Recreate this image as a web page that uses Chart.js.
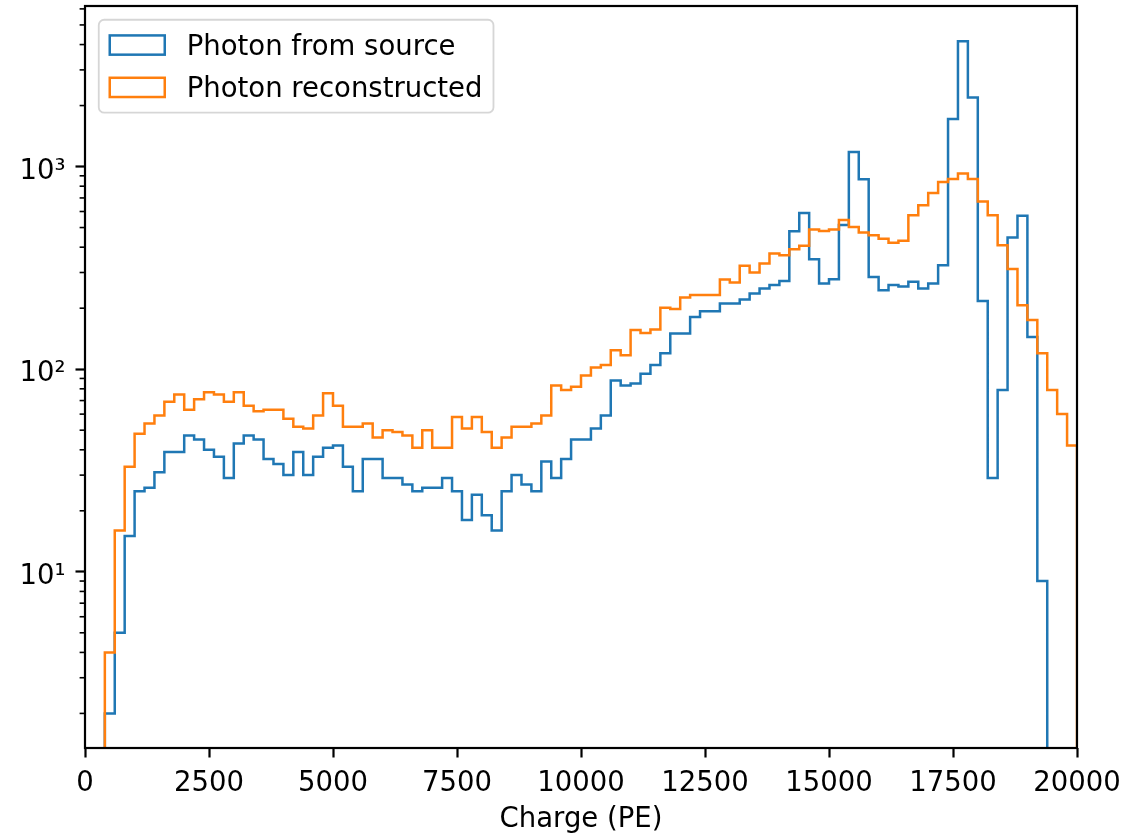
<!DOCTYPE html>
<html>
<head>
  <title>Charge spectrum</title>
  <script src="https://cdn.jsdelivr.net/npm/chart.js"></script>
  <style>
    body { margin: 0; background: #fff; }
  </style>
</head>
<body>
  <canvas id="chart" width="1127" height="838"></canvas>
  <script>
    // binning used for both histograms: 100 bins of 200 PE
    const chargeMin = 0;
    const chargeMax = 20000;

    const seriesLabels = ['Photon from source', 'Photon reconstructed'];

    // counts per bin
    const countsSource = [
      0, 0, 2, 5, 15, 25, 26, 31, 39, 39,
      47, 45, 40, 37, 29, 43, 47, 45, 36, 34,
      30, 39, 30, 37, 41, 42, 33, 25, 36, 36,
      29, 29, 27, 25, 26, 26, 29, 25, 18, 24,
      19, 16, 25, 30, 27, 25, 35, 29, 36, 45,
      45, 51, 59, 88, 83, 85, 95, 105, 120, 150,
      150, 181, 193, 193, 211, 211, 221, 236, 250, 260,
      272, 479, 590, 349, 265, 278, 515, 1181, 865, 285,
      245, 260, 256, 270, 250, 265, 326, 1715, 4150, 2190,
      217, 29, 79, 446, 572, 144, 9, 0, 0, 0
    ];
    const countsReco = [
      0, 0, 4, 16, 33, 48, 54, 59, 69, 75,
      63, 71, 77, 75, 69, 77, 66, 62, 63, 63,
      57, 52, 51, 59, 76, 66, 52, 52, 54, 46,
      50, 49, 47, 41, 50, 41, 41, 58, 51, 58,
      49, 41, 46, 52, 52, 54, 59, 83, 79, 82,
      93, 102, 105, 124, 117, 156, 151, 157, 201, 198,
      226, 232, 232, 232, 277, 268, 324, 300, 332, 372,
      365, 391, 406, 489, 481, 489, 545, 503, 472, 458,
      440, 421, 430, 575, 645, 741, 840, 867, 924, 867,
      672, 575, 409, 312, 207, 175, 120, 79, 60, 42
    ];

    const xTicks = [0, 2500, 5000, 7500, 10000, 12500, 15000, 17500, 20000];
    const yMin = 1.35;
    const yMax = 6200;
    const yMajor = [10, 100, 1000];
    const yMajorLabels = ['10\u00b9', '10\u00b2', '10\u00b3'];

    const FONT = 27.5;
    const EMPTY = 1; // empty bins sit below the axis floor, like -inf on a log axis

    // outline of a step histogram: each bin holds its count until the next edge
    function stepPoints(counts) {
      const w = (chargeMax - chargeMin) / counts.length;
      const pts = counts.map((c, i) => ({ x: chargeMin + i * w, y: c > 0 ? c : EMPTY }));
      pts.push({ x: chargeMax, y: EMPTY });
      return pts;
    }

    // log minor ticks 2..9 x 10^k inside the axis range
    function logTicks() {
      const out = [];
      for (let dec = 1; dec <= 1000; dec *= 10) {
        for (let m = 1; m <= 9; m++) {
          const v = m * dec;
          if (v >= yMin && v <= yMax) out.push({ value: v });
        }
      }
      return out;
    }

    Chart.defaults.font.family = '"DejaVu Sans"';
    Chart.defaults.font.size = FONT;
    Chart.defaults.color = '#000';

    // four spines plus the short minor ticks on the log axis
    const axesFrame = {
      id: 'axesFrame',
      afterDatasetsDraw(chart) {
        const { ctx, chartArea: a } = chart;
        const y = chart.scales.y;
        ctx.save();
        ctx.strokeStyle = '#000';
        ctx.lineWidth = 1.6;
        y.ticks.forEach(t => {
          if (yMajor.includes(t.value)) return;
          const py = y.getPixelForValue(t.value);
          ctx.beginPath();
          ctx.moveTo(a.left - 5.4, py);
          ctx.lineTo(a.left, py);
          ctx.stroke();
        });
        ctx.lineWidth = 2.2;
        ctx.strokeRect(a.left, a.top, a.right - a.left, a.bottom - a.top);
        ctx.restore();
      }
    };

    // legend box in the upper left corner with outlined patch handles
    const boxLegend = {
      id: 'boxLegend',
      afterDraw(chart) {
        const { ctx, chartArea: a } = chart;
        const sets = chart.data.datasets;
        const em = FONT;
        const pad = 0.4 * em, handleW = 2 * em, handleH = 0.7 * em, gap = 0.8 * em;
        const rowH = 1.04 * em, spacing = 0.5 * em;
        ctx.save();
        ctx.font = em + 'px "DejaVu Sans"';
        const textW = Math.max(...sets.map(d => ctx.measureText(d.label).width));
        const x0 = a.left + 0.5 * em;
        const y0 = a.top + 0.5 * em;
        const w = pad + handleW + gap + textW + pad;
        const h = 2 * pad + sets.length * rowH + (sets.length - 1) * spacing;

        ctx.beginPath();
        ctx.roundRect(x0, y0, w, h, 0.2 * em);
        ctx.fillStyle = 'rgba(255,255,255,0.8)';
        ctx.fill();
        ctx.strokeStyle = 'rgba(204,204,204,0.8)';
        ctx.lineWidth = 1.8;
        ctx.stroke();

        sets.forEach((d, i) => {
          const cy = y0 + pad + rowH / 2 + i * (rowH + spacing);
          ctx.strokeStyle = d.borderColor;
          ctx.lineWidth = d.borderWidth;
          ctx.strokeRect(x0 + pad, cy - handleH / 2, handleW, handleH);
          ctx.fillStyle = '#000';
          ctx.textAlign = 'left';
          ctx.textBaseline = 'alphabetic';
          ctx.fillText(d.label, x0 + pad + handleW + gap, cy + 0.365 * em);
        });
        ctx.restore();
      }
    };

    new Chart(document.getElementById('chart'), {
      type: 'line',
      data: {
        datasets: [{
          label: seriesLabels[0],
          data: stepPoints(countsSource),
          borderColor: '#1f77b4',
          backgroundColor: 'rgba(0,0,0,0)',
          borderWidth: 2.5,
          pointRadius: 0,
          stepped: 'before',
          fill: false,
          order: 1
        }, {
          label: seriesLabels[1],
          data: stepPoints(countsReco),
          borderColor: '#ff7f0e',
          backgroundColor: 'rgba(0,0,0,0)',
          borderWidth: 2.5,
          pointRadius: 0,
          stepped: 'before',
          fill: false,
          order: 0
        }]
      },
      options: {
        responsive: false,
        animation: false,
        events: [],
        layout: { padding: { left: 0, top: 6, right: 50, bottom: 0 } },
        plugins: {
          legend: { display: false },
          tooltip: { enabled: false }
        },
        scales: {
          x: {
            type: 'linear',
            min: chargeMin,
            max: chargeMax,
            afterBuildTicks: s => { s.ticks = xTicks.map(v => ({ value: v })); },
            afterFit: s => { s.height = 90; s.paddingLeft = 0; s.paddingRight = 0; },
            ticks: {
              autoSkip: false,
              maxRotation: 0,
              padding: 10,
              callback: v => String(v)
            },
            grid: { drawOnChartArea: false, tickLength: 9.5, tickWidth: 2.2, tickColor: '#000' },
            border: { display: false },
            title: {
              display: true,
              text: 'Charge (PE)',
              padding: { top: 0, bottom: 2 }
            }
          },
          y: {
            type: 'logarithmic',
            min: yMin,
            max: yMax,
            afterBuildTicks: s => { s.ticks = logTicks(); },
            afterFit: s => { s.width = 85; s.paddingTop = 0; s.paddingBottom = 0; },
            ticks: {
              autoSkip: false,
              padding: 10,
              labelOffset: 5,
              callback: v => {
                const k = yMajor.indexOf(v);
                return k >= 0 ? yMajorLabels[k] : '';
              }
            },
            grid: {
              drawOnChartArea: false,
              tickLength: 9.5,
              tickWidth: 2.2,
              tickColor: c => yMajor.includes(c.tick.value) ? '#000' : 'rgba(0,0,0,0)'
            },
            border: { display: false }
          }
        }
      },
      plugins: [axesFrame, boxLegend]
    });
  </script>
</body>
</html>
